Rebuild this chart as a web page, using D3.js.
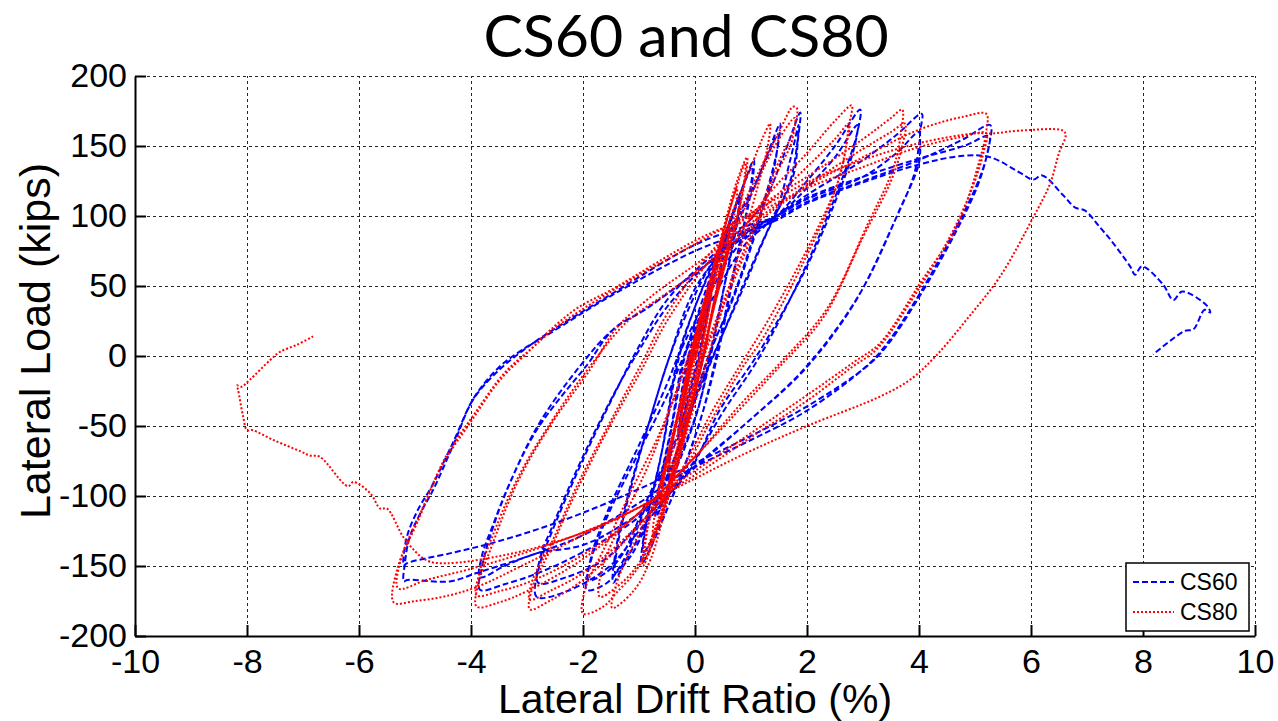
<!DOCTYPE html>
<html><head><meta charset="utf-8">
<script src="https://cdn.jsdelivr.net/npm/d3@7"></script>
<style>body{margin:0;background:#fff}svg{display:block}</style>
</head><body><svg id="chart" width="1278" height="721"></svg>
<script>
const titleText = "CS60 and CS80";
const xLabelText = "Lateral Drift Ratio (%)";
const yLabelText = "Lateral Load (kips)";
const xTicks = [-10,-8,-6,-4,-2,0,2,4,6,8,10];
const yTicks = [-200,-150,-100,-50,0,50,100,150,200];
const seriesNames = ["CS60","CS80"];

// CS60 (blue) hysteresis, drift % vs kips
const cs60Small = [[0,0],[0.1,16],[0.2,33],[0.3,50],[0.27,40],[0.15,15],[0.08,0],[-0.05,-20],[-0.18,-40],[-0.3,-55],[-0.27,-45],[-0.15,-20],[-0.05,0],
[0.1,22],[0.28,47],[0.25,38],[0.12,12],[0.06,0],[-0.1,-25],[-0.28,-52],[-0.25,-42],[-0.12,-15],[-0.03,0],
[0.15,25],[0.35,58],[0.55,85],[0.5,70],[0.3,30],[0.15,0],[0,-25],[-0.25,-58],[-0.5,-90],[-0.46,-75],[-0.3,-40],[-0.12,0],
[0.1,28],[0.3,56],[0.52,82],[0.47,66],[0.28,26],[0.14,0],[-0.02,-28],[-0.25,-60],[-0.48,-86],[-0.44,-70],[-0.28,-36],[-0.1,0]];
const cs60Drift1 = [[0.15,30],[0.45,72],[0.8,115],[0.75,95],[0.5,45],[0.28,0],[0.05,-38],[-0.35,-80],[-0.7,-115],[-0.65,-95],[-0.42,-50],[-0.2,0],
[0.1,30],[0.42,70],[0.78,110],[0.72,90],[0.48,42],[0.26,0],[0.04,-40],[-0.35,-82],[-0.68,-112],[-0.62,-92],[-0.4,-48],[-0.18,0],
[0.05,30],[0.5,82],[0.8,115],[1.05,140],[1.0,118],[0.75,70],[0.4,0],[0.1,-45],[-0.4,-100],[-0.95,-148],[-0.9,-125],[-0.6,-70],[-0.3,0],
[0,35],[0.5,84],[1.02,135],[0.96,112],[0.7,62],[0.38,0],[0.08,-48],[-0.45,-105],[-0.92,-140],[-0.86,-118],[-0.56,-62],[-0.28,0]];
const cs60Drift2 = [[0.1,45],[0.6,85],[1.0,115],[1.3,145],[1.52,166],[1.48,150],[1.3,120],[0.75,50],[0.25,0],[-0.2,-55],[-0.7,-105],[-1.1,-140],[-1.28,-150],[-1.46,-162],[-1.42,-140],[-1.2,-100],[-0.8,-45],[-0.45,0],
[0.05,48],[0.6,88],[1.1,125],[1.48,158],[1.44,140],[1.25,110],[0.72,45],[0.24,0],[-0.22,-58],[-0.75,-108],[-1.15,-140],[-1.42,-155],[-1.38,-135],[-1.15,-95],[-0.78,-42],[-0.45,0],
[0,48],[0.7,85],[1.2,108],[1.6,145],[1.88,174],[1.84,155],[1.75,128],[1.3,90],[0.93,57],[0.33,0],[-0.2,-50],[-0.8,-100],[-1.28,-146],[-1.57,-162],[-1.93,-167],[-1.85,-145],[-1.57,-115],[-0.98,-67],[-0.45,-24],[-0.2,0],
[0.3,40],[0.9,80],[1.4,100],[1.7,140],[1.85,165],[1.82,150],[1.7,125],[1.25,85],[0.9,52],[0.32,0],[-0.25,-52],[-0.85,-102],[-1.3,-142],[-1.6,-155],[-1.9,-160],[-1.83,-140],[-1.55,-110],[-0.98,-62],[-0.5,-20],[-0.3,0]];
const cs60Drift3 = [[0.2,40],[0.8,80],[1.46,100],[2.0,125],[2.5,150],[2.95,176],[2.9,160],[2.64,128],[2.0,66],[1.16,0],[0.5,-40],[-0.1,-80],[-1.0,-125],[-1.52,-150],[-2.29,-168],[-2.83,-172],[-2.78,-150],[-2.59,-129],[-2.0,-74],[-1.4,-24],[-1.04,4],
[-0.5,40],[0.2,68],[1.0,92],[1.46,100],[2.0,120],[2.5,142],[2.9,165],[2.85,150],[2.6,120],[1.95,60],[1.1,0],[0.45,-38],[-0.1,-82],[-1.0,-120],[-1.6,-145],[-2.3,-158],[-2.8,-162],[-2.75,-142],[-2.55,-122],[-1.98,-70],[-1.38,-22],[-1.0,4]];
const cs60Drift4 = [[-0.5,35],[0.2,65],[1.0,90],[1.46,100],[2.0,115],[3.0,140],[3.6,158],[4.05,173],[4.02,160],[4.0,138],[3.66,105],[2.95,45],[2.0,-7],[1.0,-45],[-0.1,-82],[-1.1,-118],[-2.0,-140],[-2.8,-155],[-3.4,-163],[-3.84,-167],[-3.8,-150],[-3.66,-129],[-3.36,-96],[-2.83,-53],[-2.0,-10],[-1.9,-5],
[-1.46,19],[-0.86,34],[0.09,62],[1.0,90],[1.46,100],[2.0,112],[3.0,128],[3.6,145],[4.0,160],[3.98,145],[3.9,128],[3.55,95],[2.85,38],[1.95,-10],[1.0,-45],[-0.1,-83],[-1.2,-118],[-2.0,-135],[-2.83,-141],[-3.4,-150],[-3.84,-158],[-3.8,-142],[-3.62,-122],[-3.3,-90],[-2.78,-48],[-2.05,-7]];
const cs60Drift5 = [[-1.46,19],[-0.86,34],[0.09,62],[1.0,88],[1.46,98],[2.0,110],[3.0,125],[4.0,140],[4.8,155],[5.27,165],[5.25,150],[5.09,128],[4.68,93],[4.02,45],[3.43,9],[3.07,-7],[2.0,-39],[1.0,-60],[-0.27,-85],[-1.0,-105],[-2.0,-128],[-2.83,-141],[-3.9,-155],[-4.38,-161],[-5.14,-160],[-5.2,-161],[-5.18,-148],[-5.1,-130],[-4.9,-112],[-4.68,-96],[-4.3,-62],[-3.96,-31],[-3.5,-10],[-3.07,4],
[-2.64,16],[-1.46,45],[0.03,80],[0.93,93],[1.46,100],[2.0,113],[3.0,128],[4.0,141],[4.8,150],[5.25,157],[5.22,145],[5.05,122],[4.65,88],[4.0,42],[3.4,6],[3.05,-8],[2.0,-36],[1.0,-57],[0.03,-76],[-1.0,-95],[-2.0,-112],[-2.83,-124],[-3.66,-134],[-4.38,-141],[-5.14,-148],[-5.2,-150],[-5.15,-130],[-4.95,-110],[-4.7,-93],[-4.3,-60],[-3.95,-30],[-3.5,-8],[-3.1,4]];
const cs60Final = [[-2.6,16],[-1.5,43],[0,75],[1.0,90],[1.46,97],[2.0,109],[3.0,124],[4.02,137],[4.79,143],[5.27,142],[5.8,131],[6.04,126],[6.2,129],[6.57,115],[6.79,106],[6.96,104],[7.23,92],[7.46,81],[7.77,64],[7.86,58],[7.98,64],[8.36,51],[8.54,40],[8.7,46],[9.14,36],[9.2,31],[9.1,33],[8.9,19],[8.75,18],[8.18,1]];

// CS80 (red) hysteresis
const cs80Small = [[0,0],[0.1,15],[0.2,32],[0.17,22],[0.08,0],[-0.05,-18],[-0.18,-35],[-0.15,-25],[-0.05,-5],[0.02,0],
[0.1,18],[0.3,48],[0.26,35],[0.12,5],[0.02,-15],[-0.15,-38],[-0.28,-55],[-0.24,-42],[-0.1,-15],[-0.02,0],
[0.12,22],[0.3,50],[0.27,38],[0.13,8],[0.03,-12],[-0.15,-38],[-0.3,-58],[-0.26,-45],[-0.12,-18],[-0.02,0],
[0.12,25],[0.3,50],[0.47,72],[0.42,55],[0.25,22],[0.12,0],[-0.05,-28],[-0.25,-58],[-0.45,-80],[-0.4,-62],[-0.22,-30],[-0.05,0],
[0.12,27],[0.3,52],[0.48,75],[0.43,58],[0.26,24],[0.13,0],[-0.04,-27],[-0.25,-60],[-0.47,-84],[-0.42,-66],[-0.23,-32],[-0.05,0]];
const cs80Drift1 = [[0.1,28],[0.35,62],[0.62,95],[0.56,75],[0.32,35],[0.15,0],[-0.08,-35],[-0.35,-75],[-0.6,-105],[-0.54,-85],[-0.32,-45],[-0.08,0],
[0.1,30],[0.36,65],[0.6,92],[0.55,72],[0.33,36],[0.16,0],[-0.07,-36],[-0.36,-78],[-0.62,-108],[-0.56,-88],[-0.33,-46],[-0.08,0],
[0.12,32],[0.45,80],[0.75,120],[0.7,100],[0.45,55],[0.2,10],[0.1,-10],[-0.25,-65],[-0.5,-100],[-0.75,-128],[-0.7,-108],[-0.45,-65],[-0.12,-10],[-0.05,0],
[0.15,36],[0.5,90],[0.75,125],[0.93,142],[0.88,122],[0.6,75],[0.3,28],[0.12,-5],[-0.2,-60],[-0.55,-110],[-0.93,-150],[-0.88,-128],[-0.6,-88],[-0.25,-35],[-0.05,0],
[0.18,38],[0.5,88],[0.9,138],[0.85,118],[0.58,72],[0.28,25],[0.1,-8],[-0.22,-62],[-0.55,-108],[-0.9,-145],[-0.85,-124],[-0.58,-84],[-0.25,-32],[-0.05,0]];
const cs80Drift2 = [[0.2,40],[0.6,95],[1.0,135],[1.2,155],[1.34,166],[1.3,150],[1.1,118],[0.7,62],[0.35,15],[0.2,-5],[-0.15,-55],[-0.5,-105],[-0.8,-146],[-1.1,-168],[-1.48,-180],[-1.42,-165],[-1.28,-150],[-0.8,-110],[-0.39,-67],[-0.1,-20],[0.02,0],
[0.5,75],[1.0,120],[1.5,160],[1.75,178],[1.82,177],[1.75,160],[1.52,141],[0.93,81],[0.33,21],[0.15,0],[-0.2,-45],[-0.5,-100],[-1.0,-150],[-1.4,-169],[-1.64,-179],[-2.0,-184],[-1.95,-165],[-1.64,-139],[-1.16,-98],[-0.63,-55],[-0.2,-10],
[0,15],[0.5,70],[1.0,115],[1.5,155],[1.78,170],[1.72,152],[1.48,132],[0.9,74],[0.3,15],[0.12,-5],[-0.25,-55],[-0.6,-110],[-1.0,-148],[-1.4,-165],[-1.7,-172],[-1.65,-150],[-1.3,-118],[-0.8,-75],[-0.3,-22],[-0.1,0]];
const cs80Drift3 = [[0.5,65],[1.2,110],[2.0,145],[2.5,168],[2.8,179],[2.75,165],[2.59,129],[2.0,76],[1.21,19],[0.8,-7],[0.3,-40],[-0.3,-85],[-1.2,-130],[-2.0,-160],[-2.6,-175],[-2.95,-181],[-2.9,-165],[-2.59,-139],[-2.11,-96],[-1.52,-50],[-0.93,-8],[-0.5,25],
[0.3,70],[1.2,105],[2.0,135],[2.5,155],[2.75,166],[2.7,150],[2.5,118],[1.95,68],[1.2,12],[0.85,-8],[0.3,-45],[-0.3,-88],[-1.2,-128],[-2.0,-155],[-2.6,-168],[-2.95,-174],[-2.9,-160],[-2.58,-135],[-2.1,-92],[-1.5,-46],[-0.95,-5]];
const cs80Drift4 = [[-0.5,30],[0.3,75],[1.2,108],[2.0,128],[3.0,155],[3.5,170],[3.7,176],[3.68,160],[3.54,134],[3.07,93],[2.36,34],[1.52,-5],[0.8,-35],[0,-72],[-1.0,-112],[-2.0,-145],[-3.0,-168],[-3.5,-176],[-3.9,-179],[-3.85,-160],[-3.66,-139],[-3.18,-91],[-2.59,-50],[-1.88,-10],
[-1.4,20],[-0.8,42],[0.1,68],[1.0,95],[2.0,122],[3.0,148],[3.5,160],[3.75,166],[3.7,150],[3.5,125],[3.0,85],[2.3,28],[1.5,-8],[0.8,-38],[0,-72],[-1.0,-112],[-2.0,-142],[-3.0,-162],[-3.5,-168],[-3.9,-171],[-3.85,-155],[-3.65,-132],[-3.15,-86],[-2.55,-46],[-1.85,-6]];
const cs80Drift5 = [[-1.2,25],[-0.5,45],[0.3,68],[1.0,92],[2.0,121],[3.0,142],[4.02,162],[4.8,171],[5.2,173],[5.2,160],[5.09,141],[4.68,93],[4.02,52],[3.3,9],[2.85,-4],[2.0,-28],[1.0,-55],[0,-82],[-1.0,-108],[-2.0,-128],[-3.0,-148],[-3.9,-165],[-4.5,-172],[-5.0,-175],[-5.38,-176],[-5.3,-150],[-4.96,-119],[-4.5,-77],[-4.02,-48],[-3.48,-17],[-2.95,4],
[-2.6,18],[-2.11,34],[-1.46,48],[0.03,83],[1.0,100],[2.0,120],[3.0,135],[3.9,148],[4.7,156],[5.2,159],[5.15,145],[4.95,120],[4.55,85],[3.95,45],[3.25,5],[2.8,-8],[2.0,-32],[1.0,-58],[0,-85],[-1.0,-108],[-2.0,-126],[-3.0,-140],[-4.0,-152],[-4.8,-160],[-5.3,-166],[-5.25,-145],[-4.9,-112],[-4.45,-72],[-3.95,-42],[-3.4,-12],[-2.9,6]];
const cs80Final = [[-2.5,20],[-1.5,46],[0,80],[1.0,102],[2.0,124],[3.0,140],[4.0,152],[5.0,159],[5.32,159],[5.8,161],[6.57,161],[6.62,158],[6.5,145],[6.34,123],[6.04,99],[5.45,57],[4.85,26],[4.3,0],[3.84,-17],[3.3,-29],[2.0,-50],[0.93,-69],[-0.27,-93],[-1.5,-118],[-2.5,-133],[-3.5,-143],[-4.43,-148],[-4.79,-146],[-5.18,-131],[-5.5,-109],[-5.62,-109],[-5.8,-98],[-6.1,-90],[-6.2,-93],[-6.7,-72],[-6.88,-71],[-7.05,-68],[-7.53,-60],[-7.9,-53],[-8.0,-53],[-8.07,-43],[-8.16,-24],[-8.18,-21],[-8.1,-22],[-7.95,-17],[-7.59,-3],[-7.41,3],[-7.11,8],[-6.82,14]];

const series = [
  {name: seriesNames[0], color: "#0000ff", dash: "6,3", width: 2,
   data: [].concat(cs60Small, cs60Drift1, cs60Drift2, cs60Drift3, cs60Drift4, cs60Drift5, cs60Final)},
  {name: seriesNames[1], color: "#ff0000", dash: "2,2", width: 2,
   data: [].concat(cs80Small, cs80Drift1, cs80Drift2, cs80Drift3, cs80Drift4, cs80Drift5, cs80Final)}
];

const svg = d3.select("#chart");
const X0 = 135, X1 = 1255, Y0 = 636, Y1 = 76;
const x = d3.scaleLinear().domain([-10,10]).range([X0,X1]);
const y = d3.scaleLinear().domain([-200,200]).range([Y0,Y1]);
const font = "'Liberation Sans', Arial, sans-serif";

// grid
const grid = svg.append("g").attr("stroke","#000").attr("stroke-width",1).attr("stroke-dasharray","3,3").attr("opacity",0.85);
grid.selectAll("line.v").data(xTicks).join("line").attr("class","v")
  .attr("x1",d=>Math.round(x(d))+0.5).attr("x2",d=>Math.round(x(d))+0.5).attr("y1",Y0).attr("y2",Y1);
grid.selectAll("line.h").data(yTicks).join("line").attr("class","h")
  .attr("y1",d=>Math.round(y(d))+0.5).attr("y2",d=>Math.round(y(d))+0.5).attr("x1",X0).attr("x2",X1);

// data lines
const line = d3.line().x(d=>x(d[0])).y(d=>y(d[1])).curve(d3.curveCatmullRom.alpha(0.5));
const plot = svg.append("g");
plot.selectAll("path").data(series).join("path")
  .attr("d", d=>line(d.data)).attr("fill","none")
  .attr("stroke", d=>d.color).attr("stroke-width", d=>d.width)
  .attr("stroke-dasharray", d=>d.dash).attr("stroke-linejoin","round");

// axes
const fmt = d => String(d);
const xAxis = d3.axisBottom(x).tickValues(xTicks).tickFormat(fmt).tickSizeInner(-11).tickSizeOuter(0).tickPadding(13);
const yAxis = d3.axisLeft(y).tickValues(yTicks).tickFormat(fmt).tickSizeInner(-11).tickSizeOuter(0).tickPadding(8);
const gx = svg.append("g").attr("transform",`translate(0,${Y0})`).call(xAxis);
const gy = svg.append("g").attr("transform",`translate(${X0},0)`).call(yAxis);
[gx,gy].forEach(g=>{
  g.select(".domain").attr("stroke","#000").attr("stroke-width",2);
  g.selectAll(".tick line").attr("stroke","#000").attr("stroke-width",2);
  g.selectAll(".tick text").attr("fill","#000").style("font-family",font).style("font-size","34px");
});

// labels
svg.append("text").attr("x",686).attr("y",57).attr("text-anchor","middle")
  .style("font-family","Lato, 'Open Sans', sans-serif").style("font-size","59px").attr("fill","#000").text(titleText);
svg.append("text").attr("x",695).attr("y",713).attr("text-anchor","middle")
  .style("font-family",font).style("font-size","41px").attr("fill","#000").text(xLabelText);
svg.append("text").attr("transform","translate(50,341) rotate(-90)").attr("text-anchor","middle")
  .style("font-family",font).style("font-size","43px").attr("fill","#000").text(yLabelText);

// legend
const lg = svg.append("g");
lg.append("rect").attr("x",1126).attr("y",563).attr("width",123).attr("height",68)
  .attr("fill","#fff").attr("stroke","#000").attr("stroke-width",1.5);
const items = lg.selectAll("g.item").data(series).join("g").attr("class","item")
  .attr("transform",(d,i)=>`translate(0,${582 + i*30})`);
items.append("line").attr("x1",1133).attr("x2",1174).attr("y1",0).attr("y2",0)
  .attr("stroke",d=>d.color).attr("stroke-width",2).attr("stroke-dasharray",d=>d.dash);
items.append("text").attr("x",1180).attr("y",8).style("font-family",font).style("font-size","23px")
  .attr("fill","#000").text(d=>d.name);
</script></body></html>
